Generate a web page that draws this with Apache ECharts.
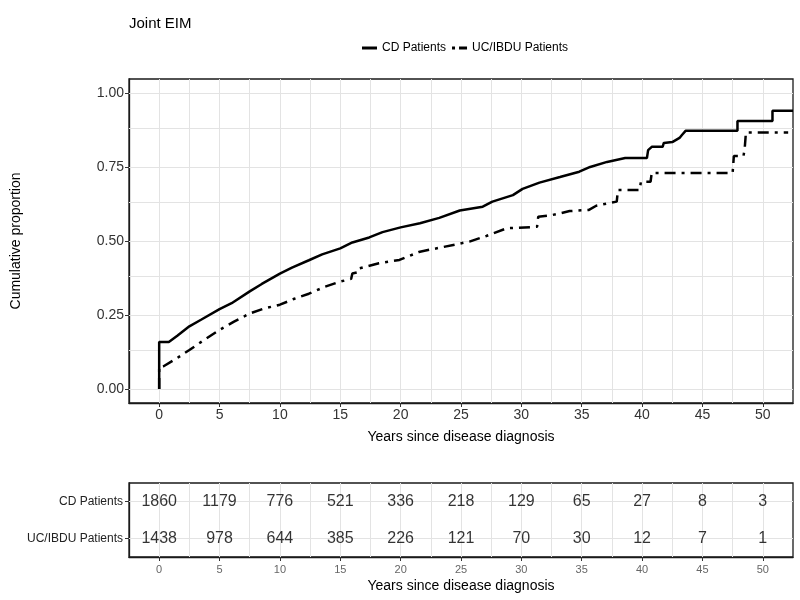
<!DOCTYPE html>
<html>
<head>
<meta charset="utf-8">
<script src="https://cdn.jsdelivr.net/npm/echarts@6/dist/echarts.min.js"></script>
<style>html,body{margin:0;padding:0;background:#fff}#c{width:800px;height:600px}</style>
</head>
<body>
<div id="c"></div>
<script>
// ---- data ----
const cdTime = [0, 0, 0.8, 1.5, 2.5, 3.5, 5, 6, 7.5, 8.5, 10, 11, 12.4, 13.5, 15, 16, 17.4, 18.5, 20, 21.6, 23.2, 24.9, 26.8, 27.6, 29.3, 30.1, 31.5, 33.2, 34.8, 35.7, 37.1, 38.6, 40.4, 40.5, 40.8, 41.7, 41.8, 42.5, 43.1, 43.3, 43.6, 47.9, 47.9, 50.8, 50.8, 52.5];
const cdProp = [0, 0.159, 0.159, 0.18, 0.212, 0.235, 0.27, 0.29, 0.33, 0.355, 0.39, 0.41, 0.435, 0.455, 0.475, 0.495, 0.512, 0.53, 0.546, 0.56, 0.578, 0.603, 0.616, 0.633, 0.655, 0.676, 0.697, 0.716, 0.734, 0.75, 0.767, 0.78, 0.78, 0.807, 0.818, 0.818, 0.831, 0.834, 0.848, 0.858, 0.872, 0.872, 0.905, 0.905, 0.94, 0.94];
const ucTime = [0, 0, 0.4, 1.5, 2.5, 3.7, 5, 6.2, 7.5, 8.7, 10, 11.2, 12.4, 13.7, 14.9, 15.9, 16.0, 16.5, 16.6, 18.2, 19.9, 21.6, 23.2, 25.7, 27.1, 28.8, 31.3, 31.4, 32.6, 34.0, 35.6, 36.2, 37.9, 38.0, 39.8, 39.9, 40.7, 40.8, 47.5, 47.6, 48.4, 48.5, 48.6, 52.1];
const ucProp = [0, 0.075, 0.078, 0.105, 0.132, 0.165, 0.2, 0.228, 0.255, 0.272, 0.285, 0.305, 0.322, 0.345, 0.362, 0.372, 0.39, 0.395, 0.408, 0.425, 0.436, 0.464, 0.477, 0.498, 0.517, 0.543, 0.548, 0.582, 0.588, 0.601, 0.605, 0.619, 0.633, 0.672, 0.672, 0.70, 0.70, 0.73, 0.73, 0.787, 0.787, 0.813, 0.866, 0.866];
const riskTimes = [0, 5, 10, 15, 20, 25, 30, 35, 40, 45, 50];
const cdRisk = [1860, 1179, 776, 521, 336, 218, 129, 65, 27, 8, 3];
const ucRisk = [1438, 978, 644, 385, 226, 121, 70, 30, 12, 7, 1];
const groups = ['UC/IBDU Patients', 'CD Patients'];   // row 1 (bottom), row 2 (top)
const groupRows = [1, 2];
const xTicks = [0, 5, 10, 15, 20, 25, 30, 35, 40, 45, 50];
const xGrid = [0, 2.5, 5, 7.5, 10, 12.5, 15, 17.5, 20, 22.5, 25, 27.5, 30, 32.5, 35, 37.5, 40, 42.5, 45, 47.5, 50];
const yTicks = [0, 0.25, 0.5, 0.75, 1];
const yGrid = [0, 0.125, 0.25, 0.375, 0.5, 0.625, 0.75, 0.875, 1];

const FONT = 'Liberation Sans, Arial, sans-serif';
const chart = echarts.init(document.getElementById('c'), null, {renderer: 'canvas'});

const gridLineStyle = {color: '#e3e3e3', width: 1, type: 'solid'};
const xTitle = 'Years since disease diagnosis';

function gridLines(xAxisIndex, yAxisIndex, items) {
  return {
    type: 'line', xAxisIndex, yAxisIndex, z: 1, silent: true,
    data: [], symbol: 'none', lineStyle: {opacity: 0},
    markLine: {
      silent: true, symbol: 'none', animation: false, z: 1,
      label: {show: false}, emphasis: {disabled: true},
      lineStyle: gridLineStyle,
      data: items
    }
  };
}

chart.setOption({
  animation: false,
  textStyle: {fontFamily: FONT},
  title: {
    text: 'Joint EIM', left: 124, top: 11,
    textStyle: {fontSize: 15, fontWeight: 'normal', color: '#000', fontFamily: FONT}
  },
  legend: {
    left: 357, top: 37, itemGap: 6, itemWidth: 15, itemHeight: 3,
    textStyle: {fontSize: 12, color: '#000', fontFamily: FONT},
    data: [
      {name: 'CD Patients', icon: 'rect'},
      {name: 'UC/IBDU Patients', icon: 'path://M0,0H3V3H0Z M7,0H15V3H7Z'}
    ]
  },
  grid: [
    {left: 129, top: 79, width: 664, height: 324, show: true, borderColor: '#1a1a1a', borderWidth: 1.3, backgroundColor: 'transparent'},
    {left: 129, top: 483, width: 664, height: 74, show: true, borderColor: '#1a1a1a', borderWidth: 1.3, backgroundColor: 'transparent'}
  ],
  xAxis: [
    {
      gridIndex: 0, type: 'value', min: -2.5, max: 52.5, position: 'bottom',
      axisLine: {show: true, onZero: false, lineStyle: {color: '#1a1a1a', width: 1.3}},
      axisTick: {show: true, customValues: xTicks, length: 4, lineStyle: {color: '#333'}},
      axisLabel: {customValues: xTicks, fontSize: 14, color: '#333', margin: 5, fontFamily: FONT},
      splitLine: {show: false},
      name: xTitle, nameLocation: 'middle', nameGap: 27,
      nameTextStyle: {fontSize: 14, color: '#000', fontFamily: FONT}
    },
    {
      gridIndex: 1, type: 'value', min: -2.5, max: 52.5, position: 'bottom',
      axisLine: {show: true, onZero: false, lineStyle: {color: '#1a1a1a', width: 1.3}},
      axisTick: {show: true, customValues: xTicks, length: 4, lineStyle: {color: '#333'}},
      axisLabel: {customValues: xTicks, fontSize: 11, color: '#666', margin: 7, fontFamily: FONT},
      splitLine: {show: false},
      name: xTitle, nameLocation: 'middle', nameGap: 22,
      nameTextStyle: {fontSize: 14, color: '#000', fontFamily: FONT}
    }
  ],
  yAxis: [
    {
      gridIndex: 0, type: 'value', min: -0.047, max: 1.047, position: 'left',
      axisLine: {show: true, onZero: false, lineStyle: {color: '#1a1a1a', width: 1.3}},
      axisTick: {show: true, customValues: yTicks, length: 4, lineStyle: {color: '#333'}},
      axisLabel: {customValues: yTicks, fontSize: 14, color: '#333', margin: 5, fontFamily: FONT,
                  formatter: v => v.toFixed(2)},
      splitLine: {show: false},
      name: 'Cumulative proportion', nameLocation: 'middle', nameGap: 106, nameRotate: 90,
      nameTextStyle: {fontSize: 14, color: '#000', fontFamily: FONT}
    },
    {
      gridIndex: 1, type: 'value', min: 0.5, max: 2.5, position: 'left',
      axisLine: {show: true, onZero: false, lineStyle: {color: '#1a1a1a', width: 1.3}},
      axisTick: {show: true, customValues: groupRows, length: 4, lineStyle: {color: '#333'}},
      axisLabel: {customValues: groupRows, fontSize: 12, color: '#222', margin: 6, fontFamily: FONT,
                  formatter: v => groups[groupRows.indexOf(v)] || ''},
      splitLine: {show: false}
    }
  ],
  series: [
    gridLines(0, 0, [...xGrid.map(v => ({xAxis: v})), ...yGrid.map(v => ({yAxis: v}))]),
    gridLines(1, 1, [...xGrid.map(v => ({xAxis: v})), ...groupRows.map(v => ({yAxis: v}))]),
    {
      name: 'CD Patients', type: 'line', xAxisIndex: 0, yAxisIndex: 0, z: 3,
      symbol: 'none', color: '#000',
      lineStyle: {color: '#000', width: 2.5, type: 'solid'},
      data: cdTime.map((t, i) => [t, cdProp[i]])
    },
    {
      name: 'UC/IBDU Patients', type: 'line', xAxisIndex: 0, yAxisIndex: 0, z: 3,
      symbol: 'none', color: '#000',
      lineStyle: {color: '#000', width: 2.5, type: [11, 6, 3, 6]},
      data: ucTime.map((t, i) => [t, ucProp[i]])
    },
    {
      name: 'risk-cd', type: 'scatter', xAxisIndex: 1, yAxisIndex: 1, z: 3,
      symbolSize: 1, itemStyle: {color: 'rgba(0,0,0,0)'}, silent: true,
      label: {show: true, position: 'inside', formatter: p => String(p.value[2]), fontSize: 16, color: '#000', fontFamily: FONT},
      data: riskTimes.map((t, i) => [t, groupRows[1], cdRisk[i]])
    },
    {
      name: 'risk-uc', type: 'scatter', xAxisIndex: 1, yAxisIndex: 1, z: 3,
      symbolSize: 1, itemStyle: {color: 'rgba(0,0,0,0)'}, silent: true,
      label: {show: true, position: 'inside', formatter: p => String(p.value[2]), fontSize: 16, color: '#000', fontFamily: FONT},
      data: riskTimes.map((t, i) => [t, groupRows[0], ucRisk[i]])
    }
  ]
});
</script>
</body>
</html>
